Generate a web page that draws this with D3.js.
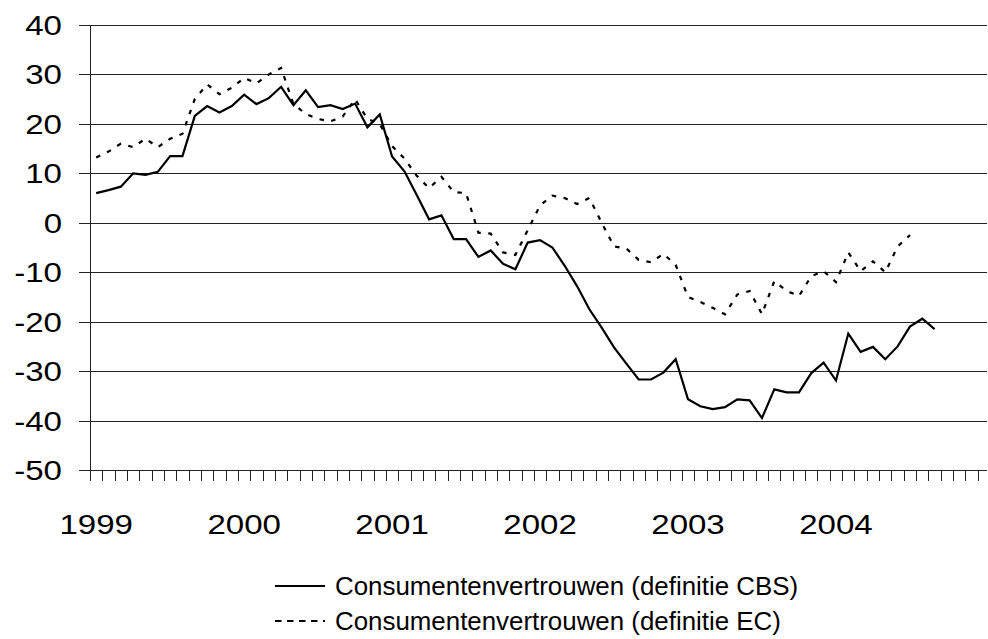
<!DOCTYPE html>
<html>
<head>
<meta charset="utf-8">
<script src="https://cdn.jsdelivr.net/npm/d3@7"></script>
<style>
html,body{margin:0;padding:0;background:#fff;}
svg{display:block;font-family:Arial,"Liberation Sans",sans-serif;}
</style>
</head>
<body>
<svg id="chart" width="988" height="639"></svg>
<script>
// Monthly data, Jan 1999 onwards
const years = ["1999","2000","2001","2002","2003","2004"];
const yTicks = [-50,-40,-30,-20,-10,0,10,20,30,40];
const seriesNames = ["Consumentenvertrouwen (definitie CBS)","Consumentenvertrouwen (definitie EC)"];
const cbs = [6.0,6.6,7.3,10.0,9.7,10.3,13.5,13.5,21.6,23.6,22.3,23.6,
  25.9,24.0,25.2,27.5,23.8,26.8,23.4,23.8,23.0,24.1,19.3,21.9,
  13.4,10.4,5.6,0.7,1.5,-3.3,-3.3,-6.9,-5.6,-8.3,-9.4,-4.0,
  -3.5,-5.0,-8.7,-12.8,-17.5,-21.2,-25.2,-28.5,-31.7,-31.7,-30.3,-27.6,
  -35.7,-37.1,-37.7,-37.3,-35.7,-35.9,-39.5,-33.7,-34.3,-34.3,-30.4,-28.3,
  -31.9,-22.4,-26.1,-25.1,-27.6,-25.0,-21.0,-19.4,-21.5];
const ec = [13.2,14.4,16.0,15.3,17.0,15.3,17.0,18.0,25.0,28.0,26.0,27.3,
  29.3,28.2,30.0,31.3,24.0,22.0,21.0,20.5,21.5,25.0,21.0,20.0,
  15.5,13.0,9.5,7.0,9.3,6.2,6.0,-2.0,-2.2,-6.0,-6.5,-1.5,
  3.5,5.5,5.0,3.8,5.0,0.0,-4.8,-5.2,-7.5,-8.0,-6.3,-8.5,
  -15.0,-16.0,-17.2,-18.5,-14.5,-13.8,-18.5,-11.8,-13.8,-14.8,-10.8,-9.8,
  -12.0,-6.0,-9.8,-7.8,-10.0,-4.8,-2.5];
const nMonths = 73;

const svg = d3.select("#chart");
const step = 12.33;
const x = d3.scaleLinear().domain([0, nMonths]).range([90, 90 + nMonths*step]);
const y = d3.scaleLinear().domain([-50, 40]).range([470, 25]);
const right = 987;
const stretch = 1.18;

// gridlines
svg.append("g").selectAll("line").data(yTicks).join("line")
  .attr("x1", 79).attr("x2", right)
  .attr("y1", d => Math.round(y(d)) + 0.5).attr("y2", d => Math.round(y(d)) + 0.5)
  .attr("stroke", "#222").attr("stroke-width", 1);

// y axis labels
svg.append("g").selectAll("text").data(yTicks).join("text")
  .attr("transform", d => `translate(62,${y(d) + 10}) scale(${stretch},1)`)
  .attr("text-anchor", "end").attr("font-size", 28).attr("fill", "#000")
  .text(d => d);

// y axis line
svg.append("line").attr("x1", 90.5).attr("x2", 90.5).attr("y1", 25).attr("y2", 470)
  .attr("stroke", "#222").attr("stroke-width", 1);

// x axis ticks
const xt = d3.range(0, nMonths + 1);
svg.append("g").selectAll("line").data(xt).join("line")
  .attr("x1", d => Math.round(x(d)) + 0.5).attr("x2", d => Math.round(x(d)) + 0.5)
  .attr("y1", 470).attr("y2", 481)
  .attr("stroke", "#222").attr("stroke-width", 1);

// year labels
svg.append("g").selectAll("text").data(years).join("text")
  .attr("transform", (d, i) => `translate(${x(i*12 + 0.5)},534) scale(${stretch},1)`)
  .attr("text-anchor", "middle").attr("font-size", 28).attr("fill", "#000")
  .text(d => d);

const line = d3.line().x((d, i) => x(i + 0.5)).y(d => y(d));

svg.append("path").datum(ec).attr("d", line)
  .attr("fill", "none").attr("stroke", "#000").attr("stroke-width", 2.2)
  .attr("stroke-dasharray", "4.5,7.5");
svg.append("path").datum(cbs).attr("d", line)
  .attr("fill", "none").attr("stroke", "#000").attr("stroke-width", 2.2)
  .attr("stroke-linejoin", "miter");

// legend
const lg = svg.append("g");
const legY = [586, 621];
lg.selectAll("line").data(seriesNames).join("line")
  .attr("x1", 275).attr("x2", 325)
  .attr("y1", (d, i) => legY[i]).attr("y2", (d, i) => legY[i])
  .attr("stroke", "#000").attr("stroke-width", 2.2)
  .attr("stroke-dasharray", (d, i) => i === 1 ? "6.5,5.5" : null);
lg.selectAll("text").data(seriesNames).join("text")
  .attr("transform", (d, i) => `translate(335,${legY[i] + 9}) scale(1.015,1)`)
  .attr("font-size", 25.5).attr("fill", "#000")
  .text(d => d);
</script>
</body>
</html>
